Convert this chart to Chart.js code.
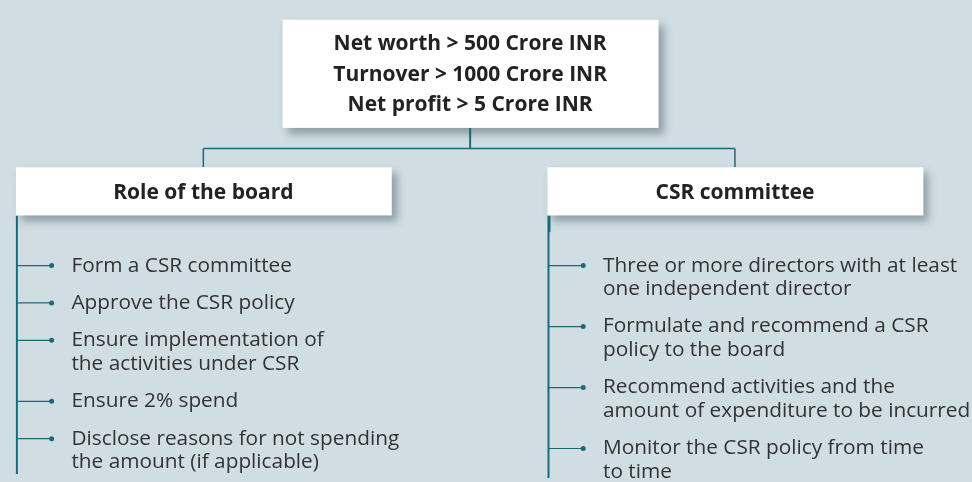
<!DOCTYPE html>
<html>
<head>
<meta charset="utf-8">
<script src="https://cdn.jsdelivr.net/npm/chart.js@4"></script>
<style>
  html, body { margin: 0; padding: 0; background: #d0dde2; }
  #c { display: block; }
</style>
</head>
<body>
<canvas id="c" width="972" height="482"></canvas>
<script>
const criteria = ['Net worth > 500 Crore INR', 'Turnover > 1000 Crore INR', 'Net profit > 5 Crore INR'];
const boardTitle = 'Role of the board';
const boardItems = [
    ['Form a CSR committee'],
    ['Approve the CSR policy'],
    ['Ensure implementation of', 'the activities under CSR'],
    ['Ensure 2% spend'],
    ['Disclose reasons for not spending', 'the amount (if applicable)']
];
const committeeTitle = 'CSR committee';
const committeeItems = [
    ['Three or more directors with at least', 'one independent director'],
    ['Formulate and recommend a CSR', 'policy to the board'],
    ['Recommend activities and the', 'amount of expenditure to be incurred'],
    ['Monitor the CSR policy from time', 'to time']
];

const TEAL = '#1d6a77';
const TEXT = '#333333';
const FONT = '"Open Sans", Roboto, sans-serif';

// vertical position of each bullet, stacked by number of lines
function bulletRows(items, x) {
    const pts = [];
    let y = 266;
    items.forEach(lines => {
        pts.push({ x: x, y: y, lines: lines });
        y += (lines.length - 1) * 24 + 38;
    });
    return pts;
}
const leftPts = bulletRows(boardItems, 48);
const rightPts = bulletRows(committeeItems, 584);

function box(ctx, x0, y0, x1, y1) {
    ctx.save();
    ctx.shadowColor = 'rgba(60, 80, 90, 0.45)';
    ctx.shadowOffsetX = 5;
    ctx.shadowOffsetY = 6;
    ctx.shadowBlur = 8;
    ctx.fillStyle = '#ffffff';
    ctx.fillRect(x0, y0, x1 - x0, y1 - y0);
    ctx.restore();
}

function seg(ctx, x0, y0, x1, y1, w) {
    ctx.beginPath();
    ctx.lineWidth = w;
    ctx.strokeStyle = TEAL;
    ctx.moveTo(x0, y0);
    ctx.lineTo(x1, y1);
    ctx.stroke();
}

const diagram = {
    id: 'diagram',
    beforeDatasetsDraw(chart) {
        const ctx = chart.ctx;
        const sx = chart.scales.x, sy = chart.scales.y;
        const X = v => sx.getPixelForValue(v), Y = v => sy.getPixelForValue(v);

        // connectors
        seg(ctx, X(470), Y(126), X(470), Y(147), 2);
        seg(ctx, X(201), Y(147), X(737), Y(147), 1.5);
        seg(ctx, X(201), Y(147), X(201), Y(166), 1.5);
        seg(ctx, X(737), Y(147), X(737), Y(166), 1.5);
        seg(ctx, X(13), Y(215), X(13), Y(478), 2);
        seg(ctx, X(549), Y(215), X(549), Y(482), 2);
        seg(ctx, X(550), Y(215), X(550), Y(232), 2);

        // boxes
        box(ctx, X(281), Y(16), X(660), Y(126));
        box(ctx, X(12), Y(166), X(391), Y(215));
        box(ctx, X(548), Y(166), X(927), Y(215));

        ctx.save();
        ctx.fillStyle = '#222222';
        ctx.textAlign = 'center';
        ctx.textBaseline = 'middle';
        ctx.font = 'bold 21px ' + FONT;
        criteria.forEach((t, i) => ctx.fillText(t, X(470), Y(41 + i * 31)));
        ctx.fillText(boardTitle, X(201), Y(192));
        ctx.fillText(committeeTitle, X(737), Y(192));

        ctx.textAlign = 'left';
        ctx.fillStyle = TEXT;
        ctx.font = '20.8px ' + FONT;
        [[leftPts, 13, 68], [rightPts, 549, 604]].forEach(([pts, lx, tx]) => {
            pts.forEach(p => {
                seg(ctx, X(lx), Y(p.y), X(p.x), Y(p.y), 1.2);
                p.lines.forEach((l, j) => ctx.fillText(l, X(tx), Y(p.y + j * 24)));
            });
        });
        ctx.restore();
    }
};

new Chart(document.getElementById('c').getContext('2d'), {
    type: 'scatter',
    data: {
        datasets: [
            { data: leftPts.map(p => ({ x: p.x, y: p.y })), pointRadius: 2.5, pointBackgroundColor: TEAL, pointBorderWidth: 0 },
            { data: rightPts.map(p => ({ x: p.x, y: p.y })), pointRadius: 2.5, pointBackgroundColor: TEAL, pointBorderWidth: 0 }
        ]
    },
    options: {
        responsive: false,
        animation: false,
        layout: { padding: 0 },
        plugins: { legend: { display: false }, tooltip: { enabled: false } },
        scales: {
            x: { type: 'linear', min: 0, max: 972, display: false },
            y: { type: 'linear', min: 0, max: 482, reverse: true, display: false }
        }
    },
    plugins: [diagram]
});
</script>
</body>
</html>
